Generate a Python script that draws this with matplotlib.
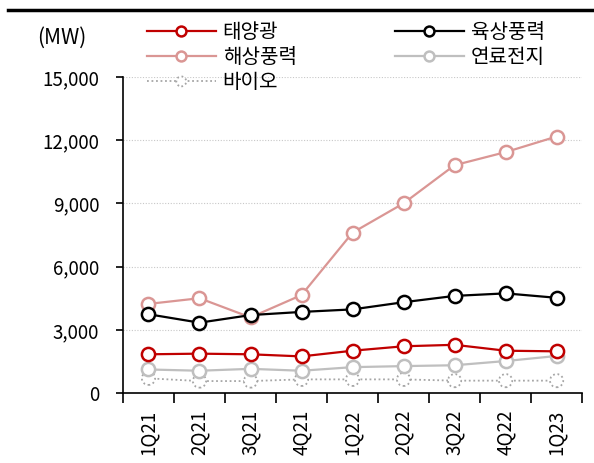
import matplotlib
matplotlib.use("Agg")
import matplotlib.pyplot as plt
from matplotlib.lines import Line2D
from matplotlib.legend_handler import HandlerTuple

plt.rcParams['font.family'] = ['Noto Sans CJK KR', 'DejaVu Sans']
plt.rcParams['font.weight'] = 'light'

quarters = ["1Q21", "2Q21", "3Q21", "4Q21", "1Q22", "2Q22", "3Q22", "4Q22", "1Q23"]
solar = [1840, 1870, 1840, 1740, 2010, 2220, 2290, 2010, 1980]
onshore = [3740, 3340, 3700, 3850, 3970, 4310, 4610, 4730, 4520]
offshore = [4230, 4500, 3590, 4650, 7610, 9000, 10810, 11430, 12170]
fuelcell = [1120, 1060, 1150, 1060, 1230, 1280, 1320, 1520, 1760]
bio = [700, 570, 570, 650, 650, 650, 590, 590, 590]
yticks = [0, 3000, 6000, 9000, 12000, 15000]

fig = plt.figure(figsize=(5.94, 4.63), dpi=100)
ax = fig.add_axes([0.207, 0.151, 0.773, 0.683])

x = list(range(len(quarters)))
ms = 9.5
lw = 1.6
mew = 1.8
h_solar, = ax.plot(x, solar, color='#C00000', lw=lw, marker='o', ms=ms, mfc='white', mec='#C00000', mew=mew, zorder=4)
h_off, = ax.plot(x, offshore, color='#DA9694', lw=lw, marker='o', ms=ms, mfc='white', mec='#DA9694', mew=mew, zorder=3)
h_on, = ax.plot(x, onshore, color='black', lw=lw, marker='o', ms=ms, mfc='white', mec='black', mew=mew, zorder=3)
h_fc, = ax.plot(x, fuelcell, color='#BFBFBF', lw=lw, marker='o', ms=ms, mfc='white', mec='#BFBFBF', mew=mew, zorder=2.5)
h_bio_l, = ax.plot(x, bio, color='#A6A6A6', lw=1.3, ls=(0, (1, 1.5)), zorder=2)
h_bio_m = ax.scatter(x, bio, s=ms**2, facecolors='white', edgecolors='#A6A6A6', linewidths=1.3,
                     linestyle=(0, (1, 1.5)), zorder=2.2)

ax.set_xlim(-0.5, len(quarters) - 0.5)
ax.set_ylim(0, 15000)
ax.set_yticks(yticks)
ax.set_yticklabels([f"{v:,}" for v in yticks], fontsize=13.5)
ax.set_xticks([i + 0.5 for i in range(-1, len(quarters))])
ax.set_xticklabels([])
ax.set_xticks(x, minor=True)
ax.set_xticklabels(quarters, minor=True, rotation=90, fontsize=13.5)
ax.tick_params(axis='x', which='major', direction='out', length=7, width=1.2)
ax.tick_params(axis='x', which='minor', length=0, pad=12)
ax.tick_params(axis='y', direction='out', length=5, width=1.2, pad=12)
for v in yticks[1:]:
    ax.axhline(v, color='#C8C8C8', lw=0.8, ls=(0, (1, 1.5)), zorder=0)
for s in ['top', 'right']:
    ax.spines[s].set_visible(False)
for s in ['left', 'bottom']:
    ax.spines[s].set_linewidth(1.2)

handles = [h_solar, h_off, (h_bio_l, h_bio_m), h_on, h_fc]
labels = ['태양광', '해상풍력', '바이오', '육상풍력', '연료전지']
leg = fig.legend(handles, labels, loc='upper left', bbox_to_anchor=(0.234, 0.969), ncol=2, frameon=False,
                 fontsize=14.5, handlelength=3.4, columnspacing=4.9, labelspacing=0.2,
                 handletextpad=0.35, borderaxespad=0, markerscale=0.75,
                 scatterpoints=1, scatteryoffsets=[0.5],
                 handler_map={tuple: HandlerTuple(ndivide=1)})
fig.text(0.062, 0.918, "(MW)", fontsize=15, va='center', ha='left')
fig.add_artist(Line2D([0.013, 1.0], [0.978, 0.978], color='black', lw=2.5))

fig.savefig("out.png", dpi=100)
